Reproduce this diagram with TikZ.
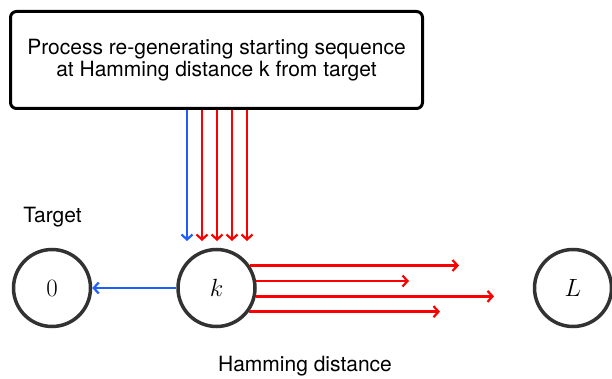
\documentclass[tikz,border=0pt]{standalone}
\usepackage{fontspec}
\setmainfont{TeX Gyre Heros}
\usetikzlibrary{arrows.meta}
\definecolor{cblue}{RGB}{30,95,250}
\definecolor{cred}{RGB}{250,0,0}
\definecolor{cgray}{RGB}{50,50,50}
\begin{document}
\begin{tikzpicture}[x=1pt,y=-1pt,
  state/.style={circle,draw=cgray,line width=3.5pt,minimum size=77pt,inner sep=0pt,font=\fontsize{25}{25}\selectfont},
  procbox/.style={draw=black,line width=3pt,rounded corners=6pt,minimum width=412pt,minimum height=97pt,align=center,inner sep=0pt,font=\fontsize{21}{21.5}\selectfont},
  lbl/.style={font=\fontsize{21}{21}\selectfont,inner sep=0pt},
  blu/.style={draw=cblue,line width=2.4pt,-{Straight Barb[length=5pt,width=11pt,line width=2.2pt]}},
  rd/.style={draw=cred,line width=2.4pt,-{Straight Barb[length=5pt,width=11pt,line width=2.2pt]}}]
\useasboundingbox (0,0) rectangle (612,379);
\node[procbox] (box) at (216.5,60) {Process re-generating starting sequence\\at Hamming distance k from target};
\node[state] (zero) at (52,288) {$0$};
\node[state] (k) at (216.5,288) {$k$};
\node[state] (L) at (573,288) {$L$};
\node[lbl] (target) at (52.5,217) {Target};
\node[lbl] (ham) at (305,366) {Hamming distance};
% vertical arrows
\coordinate (v0) at (187,241);
\coordinate (v1) at (202,241);
\coordinate (v2) at (217,241);
\coordinate (v3) at (232,241);
\coordinate (v4) at (247,241);
\draw[blu] (box.south -| v0) -- (v0);
\draw[rd] (box.south -| v1) -- (v1);
\draw[rd] (box.south -| v2) -- (v2);
\draw[rd] (box.south -| v3) -- (v3);
\draw[rd] (box.south -| v4) -- (v4);
% blue to target
\draw[blu] (k.west) -- (zero.east);
% red horizontal arrows
\coordinate (e1) at (459,266);
\coordinate (e2) at (409,281);
\coordinate (e3) at (494,296);
\coordinate (e4) at (440,311);
\draw[rd] (k.34.8) -- (k.34.8 -| e1);
\draw[rd] (k.10.5) -- (k.10.5 -| e2);
\draw[rd] (k.-12) -- (k.-12 -| e3);
\draw[rd] (k.-36.7) -- (k.-36.7 -| e4);
\end{tikzpicture}
\end{document}
